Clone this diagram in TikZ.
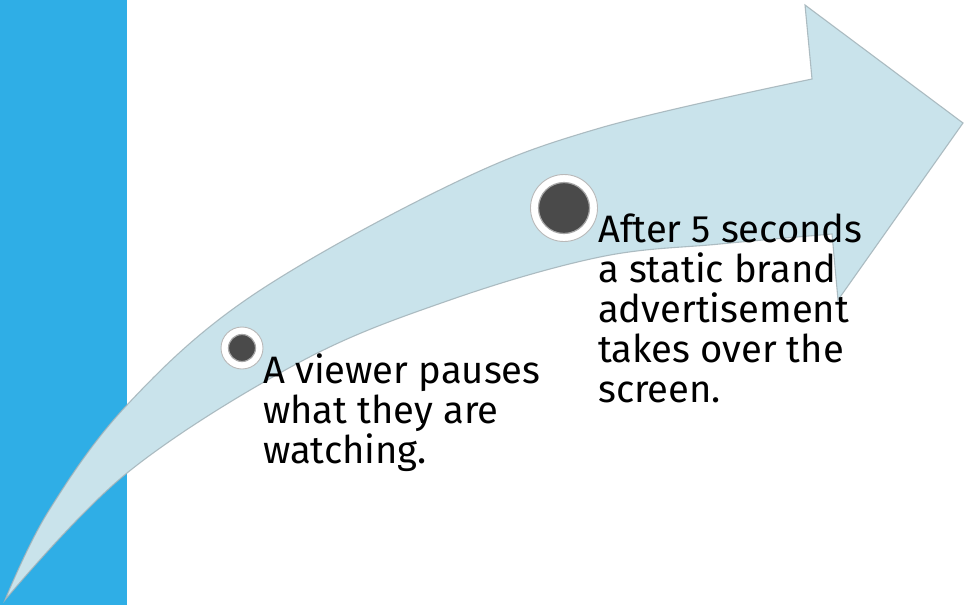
\documentclass[tikz,border=0pt]{standalone}
\usepackage{fontspec}
\setmainfont{Fira Sans}
\definecolor{barblue}{HTML}{2FAEE6}
\definecolor{arrowfill}{HTML}{C9E3EB}
\definecolor{arrowline}{HTML}{A3B3B9}
\definecolor{dotdark}{HTML}{4A4A4A}
\tikzset{
  ringdot/.style={circle, fill=white, draw=gray!55, line width=0.9pt, inner sep=0pt},
  coredot/.style={circle, fill=dotdark, draw=gray!70, line width=1.2pt, inner sep=0pt},
  stepnote/.style={anchor=base west, inner sep=0pt, align=left, text=black,
    font=\fontsize{38.2}{40}\selectfont}
}
\begin{document}
\begin{tikzpicture}[x=1pt,y=-1pt]
\useasboundingbox (0,0) rectangle (964,605);
\fill[white] (0,0) rectangle (964,605);
\fill[barblue] (0,0) rectangle (127,605);
% curved arrow
\draw[fill=arrowfill, draw=arrowline, draw opacity=0.85, line width=1.1pt, line join=miter]
  plot[smooth, tension=0.6] coordinates {(5,600) (48,512) (127,405) (250,297) (450,185) (600,128) (812,79)}
  -- (805,5) -- (963,123) -- (838,300) -- (832,234)
  -- plot[smooth, tension=0.6] coordinates {(832,234) (720,244) (600,257) (450,300) (300,362) (127,473) (5,600)}
  -- cycle;
% dots
\node[ringdot, minimum size=42pt] (r1) at (242,348) {};
\node[coredot, minimum size=27pt] (c1) at (r1.center) {};
\node[ringdot, minimum size=67pt] (r2) at (564,208) {};
\node[coredot, minimum size=51pt] (c2) at (r2.center) {};
% texts (anchor = baseline of last line)
\node[stepnote] (t1) at (263,463) {A viewer pauses\\what they are\\watching.};
\node[stepnote] (t2) at (598,402) {After 5 seconds\\a static brand\\advertisement\\takes over the\\screen.};
\end{tikzpicture}
\end{document}
